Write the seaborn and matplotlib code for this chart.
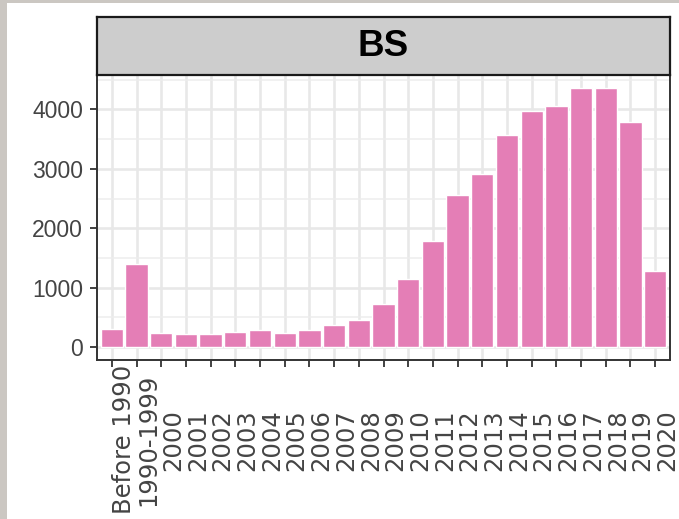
import matplotlib
matplotlib.use("Agg")
import matplotlib.pyplot as plt
from matplotlib.patches import Rectangle
from matplotlib.ticker import MultipleLocator, FixedLocator
import seaborn as sns
import pandas as pd

# Records per publication period for the BS group
periods = ["Before 1990", "1990-1999", "2000", "2001", "2002", "2003", "2004",
           "2005", "2006", "2007", "2008", "2009", "2010", "2011", "2012",
           "2013", "2014", "2015", "2016", "2017", "2018", "2019", "2020"]
counts = [304, 1405, 236, 219, 225, 253, 292, 242, 287, 365, 450, 731,
          1152, 1793, 2558, 2906, 3564, 3974, 4053, 4356, 4362, 3789, 1276]
y_ticks = [0, 1000, 2000, 3000, 4000]
facet_label = "BS"

bar_color = "#E47EB6"
text_grey = "#444444"
line_dark = "#333333"

sns.set_style("white")
plt.rcParams["font.family"] = ["Liberation Sans", "DejaVu Sans"]

df = pd.DataFrame({"period": periods, "count": counts})

W, H = 679, 519
fig = plt.figure(figsize=(W / 100, H / 100), dpi=100)
fig.patch.set_facecolor("#CBC7C2")
fig.add_artist(Rectangle((7 / W, 0), 1 - 7 / W, 1 - 3 / H,
                         transform=fig.transFigure, facecolor="white",
                         edgecolor="none", zorder=-10))

left, right, top, bottom = 97, 670, 75, 360
ax = fig.add_axes([left / W, 1 - bottom / H, (right - left) / W, (bottom - top) / H])

sns.barplot(data=df, x="period", y="count", order=periods, color=bar_color,
            saturation=1, width=0.9, ax=ax, zorder=3)

n = len(periods)
ax.set_xlim(-0.6, n - 0.4)
ymax = max(counts)
ax.set_ylim(-0.05 * ymax, 1.05 * ymax)

ax.yaxis.set_major_locator(FixedLocator(y_ticks))
ax.yaxis.set_minor_locator(MultipleLocator(500))
ax.set_yticks(y_ticks)
ax.set_yticklabels([str(v) for v in y_ticks], fontsize=16.5, color=text_grey)

ax.set_xticks(range(n))
ax.set_xticklabels(periods, rotation=90, ha="left", va="center",
                   fontsize=17.5, color=text_grey, family="DejaVu Sans")

ax.set_xlabel("")
ax.set_ylabel("")

ax.set_axisbelow(True)
ax.grid(which="major", color="#E8E8E8", lw=1.9, zorder=0)
ax.grid(which="minor", axis="y", color="#EDEDED", lw=1.1, zorder=0)

ax.tick_params(axis="both", which="major", bottom=True, left=True,
               length=5, width=1.3, color=line_dark)
ax.tick_params(axis="y", which="major", pad=5)
ax.tick_params(axis="x", which="major", pad=52.5)
ax.tick_params(which="minor", length=0)

for s in ax.spines.values():
    s.set_visible(True)
    s.set_color(line_dark)
    s.set_linewidth(1.4)

# Facet strip above the panel
strip_top = 17
sax = fig.add_axes([left / W, 1 - top / H, (right - left) / W, (top - strip_top) / H])
sax.set_facecolor("#CDCDCD")
sax.set_xticks([])
sax.set_yticks([])
for s in sax.spines.values():
    s.set_visible(True)
    s.set_color("#1A1A1A")
    s.set_linewidth(1.6)
sax.text(0.5, 0.5, facet_label, ha="center", va="center", fontsize=26.5,
         fontweight="bold", color="black", transform=sax.transAxes)

fig.savefig("out.png", dpi=100, facecolor=fig.get_facecolor())
